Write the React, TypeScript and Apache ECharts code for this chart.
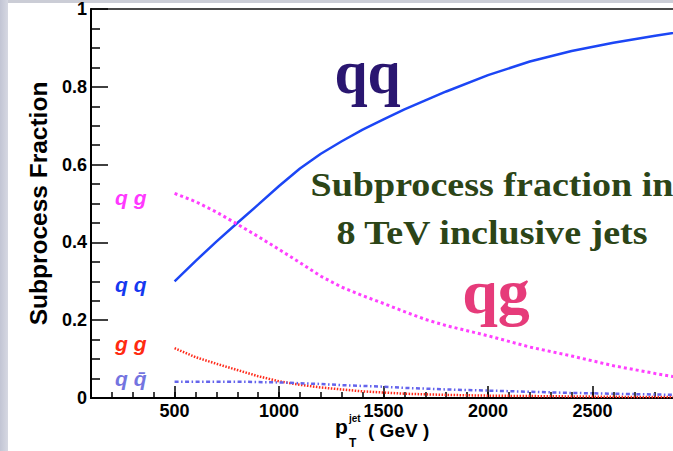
import React, { useEffect, useRef } from "react";
import * as echarts from "echarts";

const ptBins = [500, 600, 700, 800, 900, 1000, 1100, 1200, 1300, 1400, 1500, 1600, 1700, 1800, 2000, 2200, 2400, 2600, 2800, 3000];
const qqFrac = [0.30, 0.352, 0.402, 0.45, 0.497, 0.545, 0.59, 0.628, 0.66, 0.69, 0.716, 0.742, 0.765, 0.788, 0.83, 0.865, 0.892, 0.913, 0.931, 0.948];
const qgFrac = [0.526, 0.505, 0.478, 0.447, 0.415, 0.382, 0.348, 0.313, 0.285, 0.263, 0.243, 0.222, 0.202, 0.186, 0.16, 0.131, 0.108, 0.083, 0.063, 0.045];
const ggFrac = [0.128, 0.105, 0.088, 0.072, 0.056, 0.043, 0.034, 0.027, 0.022, 0.017, 0.014, 0.011, 0.0095, 0.008, 0.006, 0.005, 0.004, 0.003, 0.0025, 0.002];
const qqbarFrac = [0.042, 0.042, 0.042, 0.042, 0.041, 0.040, 0.038, 0.036, 0.033, 0.031, 0.029, 0.026, 0.024, 0.022, 0.019, 0.016, 0.013, 0.011, 0.009, 0.007];

const xMin = 100;
const xMax = 3000;
const yTitle = "Subprocess Fraction";
const sideLabels = [
  { text: "q g", color: "#ff38ff", y: 197 },
  { text: "q q", color: "#1538f0", y: 284 },
  { text: "g g", color: "#ff2a10", y: 343 },
  { text: "q q\u0304", color: "#7474e0", y: 378 },
];

const SANS = "'Liberation Sans', Arial, Helvetica, sans-serif";
const SERIF = "'Liberation Serif', 'Times New Roman', serif";

function pairs(ys: number[]) {
  return ptBins.map((x, i) => [x, ys[i]]);
}

export default function App() {
  const ref = useRef<HTMLDivElement>(null);
  useEffect(() => {
    if (!ref.current) return;
    const chart = echarts.init(ref.current, null, { renderer: "svg" });
    const tickFont = { fontSize: 18, fontWeight: "bold" as const, fontFamily: SANS, color: "#000" };
    chart.setOption({
      animation: false,
      backgroundColor: "#ffffff",
      grid: {
        left: 91,
        top: 8,
        bottom: 53,
        right: 23,
        show: true,
        borderColor: "#111",
        borderWidth: 1.5,
        backgroundColor: "transparent",
      },
      xAxis: [
        {
          type: "value",
          min: xMin,
          max: xMax,
          splitNumber: 6,
          position: "bottom",
          axisLine: { show: true, lineStyle: { color: "#000", width: 2 } },
          axisTick: { show: true, inside: true, length: 12, lineStyle: { color: "#000", width: 1.5 } },
          axisLabel: { ...tickFont, margin: 4, showMinLabel: false, showMaxLabel: false, formatter: (v: number) => String(v) },
          splitLine: { show: false },
        },
        {
          type: "value",
          min: xMin,
          max: xMax,
          interval: 100,
          position: "bottom",
          axisLine: { show: false },
          axisTick: { show: true, inside: true, length: 6, lineStyle: { color: "#000", width: 1.5 } },
          axisLabel: { show: false },
          splitLine: { show: false },
        },
      ],
      yAxis: {
        type: "value",
        min: 0,
        max: 1,
        interval: 0.2,
        name: yTitle,
        nameLocation: "middle",
        nameGap: 36,
        nameTextStyle: { fontSize: 24.5, fontWeight: "bold", fontFamily: SANS, color: "#000" },
        axisLine: { show: true, lineStyle: { color: "#000", width: 2 } },
        axisTick: { show: true, inside: true, length: 17, lineStyle: { color: "#000", width: 1.5 } },
        minorTick: { show: true, splitNumber: 4, length: 9, lineStyle: { color: "#000", width: 1.5 } },
        axisLabel: { ...tickFont, margin: 4 },
        splitLine: { show: false },
      },
      series: [
        {
          name: "qq",
          type: "line",
          xAxisIndex: 0,
          data: pairs(qqFrac),
          showSymbol: false,
          lineStyle: { color: "#1c46f5", width: 2.5 },
        },
        {
          name: "qg",
          type: "line",
          xAxisIndex: 0,
          data: pairs(qgFrac),
          showSymbol: false,
          lineStyle: { color: "#ff40ff", width: 3, type: [3, 3] },
        },
        {
          name: "gg",
          type: "line",
          xAxisIndex: 0,
          data: pairs(ggFrac),
          showSymbol: false,
          lineStyle: { color: "#ff2a1a", width: 2.5, type: [1.5, 1.5] },
        },
        {
          name: "qqbar",
          type: "line",
          xAxisIndex: 0,
          data: pairs(qqbarFrac),
          showSymbol: false,
          lineStyle: { color: "#6464ec", width: 2.5, type: [4, 2.5, 1.5, 2.5] },
        },
      ],
      graphic: [
        {
          type: "rect",
          shape: { x: 0, y: 0, width: 8, height: 451 },
          style: {
            fill: new echarts.graphic.LinearGradient(0, 0, 1, 0, [
              { offset: 0, color: "#c2c5d4" },
              { offset: 1, color: "#d6d8e2" },
            ]),
          },
          silent: true,
        },
        {
          type: "rect",
          shape: { x: 8, y: 0, width: 712, height: 3 },
          style: { fill: "#cbcdd6" },
          silent: true,
        },
        ...sideLabels.map((s) => ({
          type: "text",
          x: 115,
          y: s.y,
          style: {
            text: s.text,
            fill: s.color,
            fontSize: 21,
            fontWeight: "bold",
            fontStyle: "italic",
            fontFamily: SANS,
            textAlign: "left",
            textVerticalAlign: "middle",
          },
        })),
        {
          type: "text",
          x: 367.5,
          y: 71,
          scaleX: 0.93,
          style: {
            text: "qq",
            fill: "#2a1670",
            fontSize: 64,
            fontWeight: "bold",
            fontFamily: SERIF,
            textAlign: "center",
            textVerticalAlign: "middle",
          },
        },
        {
          type: "text",
          x: 492,
          y: 185,
          scaleX: 1.12,
          style: {
            text: "Subprocess fraction in",
            fill: "#2c4517",
            fontSize: 34,
            fontWeight: "bold",
            fontFamily: SERIF,
            textAlign: "center",
            textVerticalAlign: "middle",
          },
        },
        {
          type: "text",
          x: 492,
          y: 233,
          scaleX: 1.12,
          style: {
            text: "8 TeV inclusive jets",
            fill: "#2c4517",
            fontSize: 34,
            fontWeight: "bold",
            fontFamily: SERIF,
            textAlign: "center",
            textVerticalAlign: "middle",
          },
        },
        {
          type: "text",
          x: 496,
          y: 291,
          style: {
            text: "qg",
            fill: "#e63b7a",
            fontSize: 64,
            fontWeight: "bold",
            fontFamily: SERIF,
            textAlign: "center",
            textVerticalAlign: "middle",
          },
        },
        {
          type: "text",
          x: 335,
          y: 426,
          style: { text: "p", fill: "#000", fontSize: 21, fontWeight: "bold", fontFamily: SANS, textAlign: "left", textVerticalAlign: "middle" },
        },
        {
          type: "text",
          x: 349,
          y: 418,
          style: { text: "jet", fill: "#000", fontSize: 10, fontWeight: "bold", fontFamily: SANS, textAlign: "left", textVerticalAlign: "middle" },
        },
        {
          type: "text",
          x: 349,
          y: 443,
          style: { text: "T", fill: "#000", fontSize: 12, fontWeight: "bold", fontFamily: SANS, textAlign: "left", textVerticalAlign: "middle" },
        },
        {
          type: "text",
          x: 368,
          y: 430,
          style: { text: "( GeV )", fill: "#000", fontSize: 19, fontWeight: "bold", fontFamily: SANS, textAlign: "left", textVerticalAlign: "middle" },
        },
      ],
    });
    return () => chart.dispose();
  }, []);
  return (
    <div style={{ position: "fixed", left: 0, top: 0, width: 673, height: 451, overflow: "hidden", background: "#fff" }}>
      <div ref={ref} style={{ width: 720, height: 451 }} />
    </div>
  );
}
